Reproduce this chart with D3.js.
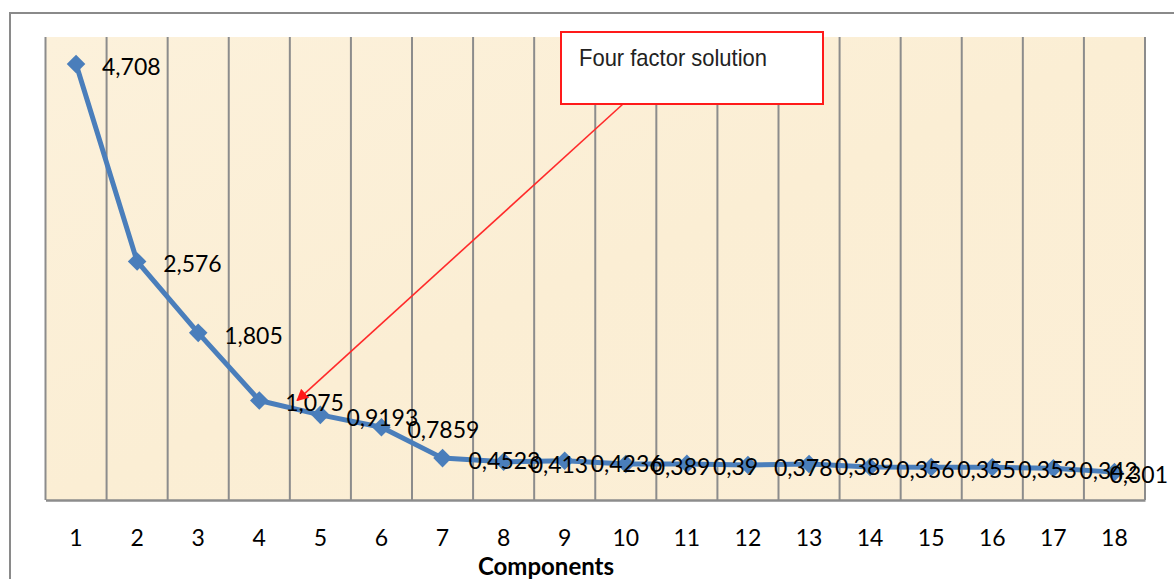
<!DOCTYPE html>
<html><head><meta charset="utf-8">
<script src="https://cdn.jsdelivr.net/npm/d3@7"></script>
<style>
html,body{margin:0;padding:0;background:#fff;}
svg{display:block;}
</style></head>
<body>
<svg id="chart" width="1174" height="579"></svg>
<script>
const components = [1,2,3,4,5,6,7,8,9,10,11,12,13,14,15,16,17,18];
const eigenvalues = [4.708,2.576,1.805,1.075,0.9193,0.7859,0.4523,0.413,0.4236,0.389,0.39,0.378,0.389,0.356,0.355,0.353,0.342,0.301];
const valueLabels = ["4,708","2,576","1,805","1,075","0,9193","0,7859","0,4523","0,413","0,4236","0,389","0,39","0,378","0,389","0,356","0,355","0,353","0,342","0,301"];
const xTitle = "Components";
const annotationText = "Four factor solution";
const annotatedComponent = 4.62;

const svg = d3.select("#chart");
const W = 1174, H = 579;
const plot = {left:45.5, right:1145, top:37, bottom:500};
const font = "Lato, 'Open Sans', sans-serif";

// outer chart border
svg.append("rect").attr("x",10).attr("y",13).attr("width",W+20).attr("height",H+20)
  .attr("fill","#fff").attr("stroke","#8a8a8a").attr("stroke-width",2);

const x = d3.scaleBand().domain(components).range([plot.left, plot.right]).padding(0);
const y = d3.scaleLinear().domain([0,5]).range([plot.bottom, plot.top]);
const cx = d => x(d) + x.bandwidth()/2;

// plot background (parchment)
const defs = svg.append("defs");
const grad = defs.append("linearGradient").attr("id","bg").attr("x1",0).attr("y1",0).attr("x2",1).attr("y2",1);
grad.append("stop").attr("offset","0%").attr("stop-color","#fcf1db");
grad.append("stop").attr("offset","50%").attr("stop-color","#fbeed4");
grad.append("stop").attr("offset","100%").attr("stop-color","#fcefd7");
svg.append("rect").attr("x",plot.left).attr("y",plot.top)
  .attr("width",plot.right-plot.left).attr("height",plot.bottom-plot.top).attr("fill","url(#bg)");

// vertical gridlines at category boundaries
const bounds = components.map(d => x(d)).concat([plot.right]);
svg.append("g").selectAll("line").data(bounds).join("line")
  .attr("x1",d=>d).attr("x2",d=>d).attr("y1",plot.top).attr("y2",plot.bottom)
  .attr("stroke","#8c8c8c").attr("stroke-width",2);

// bottom axis
const xAxis = d3.axisBottom(x).tickSize(0).tickPadding(0);
const gx = svg.append("g").attr("transform",`translate(0,${plot.bottom})`).call(xAxis);
gx.select(".domain").attr("stroke","#8c8c8c").attr("stroke-width",2.5);
gx.selectAll("text").attr("font-family",font).attr("font-size",23).attr("fill","#000")
  .attr("dy",0).attr("y",46);

svg.append("text").attr("x",546).attr("y",575).attr("text-anchor","middle")
  .attr("font-family",font).attr("font-weight","bold").attr("font-size",24).attr("fill","#000")
  .text(xTitle);

// line
const line = d3.line().x((d,i)=>cx(components[i])).y(d=>y(d));
svg.append("path").datum(eigenvalues).attr("d",line)
  .attr("fill","none").attr("stroke","#4a7ebb").attr("stroke-width",5).attr("stroke-linejoin","round");

// markers
const diamond = d3.symbol().type(d3.symbolDiamond2).size(220);
svg.append("g").selectAll("path").data(eigenvalues).join("path")
  .attr("d",diamond)
  .attr("transform",(d,i)=>`translate(${cx(components[i])},${y(d)})`)
  .attr("fill","#4a7ebb");

// data labels
const lblG = svg.append("g");
lblG.selectAll("text").data(eigenvalues).join("text")
  .attr("x",(d,i)=>cx(components[i])+26)
  .attr("y",(d,i)=>y(d)+2)
  .attr("dominant-baseline","central")
  .attr("font-family",font).attr("font-size",23).attr("fill","#000")
  .text((d,i)=>valueLabels[i])
  .each(function(){
    const w = this.getComputedTextLength();
    const xx = +this.getAttribute("x");
    if (xx + w > 1168) this.setAttribute("x", 1168 - w);
  });

// annotation arrow
defs.append("marker").attr("id","arrow").attr("viewBox","0 0 10 10")
  .attr("refX",9).attr("refY",5).attr("markerWidth",7.5).attr("markerHeight",7.5)
  .attr("orient","auto-start-reverse").attr("markerUnits","strokeWidth")
  .append("path").attr("d","M0,0 L10,5 L0,10 z").attr("fill","#ff1a1a");
const tipX = cx(4) + x.bandwidth()*(annotatedComponent-4);
svg.append("line").attr("x1",623).attr("y1",104)
  .attr("x2",tipX).attr("y2",y(1.075))
  .attr("stroke","#ff2a2a").attr("stroke-width",1.6).attr("marker-end","url(#arrow)");

// annotation box
svg.append("rect").attr("x",561).attr("y",32).attr("width",262).attr("height",72)
  .attr("fill","#fff").attr("stroke","#ff1a1a").attr("stroke-width",2);
svg.append("text").attr("x",579).attr("y",66)
  .attr("font-family","'Liberation Sans Narrow', 'Liberation Sans', Arial, sans-serif")
  .attr("font-size",24).attr("fill","#222")
  .attr("textLength",188).attr("lengthAdjust","spacingAndGlyphs")
  .text(annotationText);
</script>
</body></html>
